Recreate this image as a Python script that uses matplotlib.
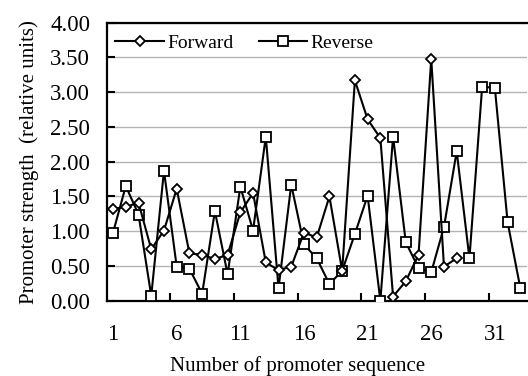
import matplotlib
matplotlib.use("Agg")
import matplotlib.pyplot as plt
from matplotlib.ticker import FixedLocator, FormatStrFormatter

plt.rcParams['font.family'] = ['Liberation Serif', 'DejaVu Serif']

forward = [1.32, 1.35, 1.41, 0.74, 1.01, 1.61, 0.68, 0.66, 0.60, 0.66,
           1.27, 1.55, 0.55, 0.44, 0.49, 0.98, 0.91, 1.50, 0.43, 3.17,
           2.61, 2.34, 0.06, 0.28, 0.66, 3.48, 0.49, 0.61]
reverse = [0.98, 1.65, 1.24, 0.07, 1.87, 0.49, 0.46, 0.10, 1.29, 0.38,
           1.64, 1.01, 2.36, 0.18, 1.67, 0.81, 0.61, 0.24, 0.43, 0.96,
           1.51, 0.00, 2.36, 0.84, 0.47, 0.41, 1.06, 2.15, 0.61, 3.08,
           3.06, 1.13, 0.18]
x_labels = ['1', '6', '11', '16', '21', '26', '31']
y_ticks = [0.0, 0.5, 1.0, 1.5, 2.0, 2.5, 3.0, 3.5, 4.0]

fs = 15
tfs = 16.5
fig = plt.figure(figsize=(5.28, 3.76), dpi=100)
ax = fig.add_axes([106.7/528, (376-300.7)/376, 420/528, (300.7-22.7)/376])

xf = list(range(1, len(forward) + 1))
xr = list(range(1, len(reverse) + 1))
ax.plot(xf, forward, color='black', lw=1.5, marker='D', ms=5.0, mfc='white',
        mec='black', mew=1.3, label='Forward', zorder=4)
ax.plot(xr, reverse, color='black', lw=1.5, marker='s', ms=6.5, mfc='white',
        mec='black', mew=1.3, label='Reverse', zorder=3)

ax.set_xlim(0.5, 33.5)
ax.set_ylim(0, 4.0)
ax.yaxis.set_major_locator(FixedLocator(y_ticks))
ax.yaxis.set_major_formatter(FormatStrFormatter('%.2f'))
ax.grid(axis='y', color='#b4b4b4', lw=1.0)
ax.set_axisbelow(True)

label_pos = [int(s) for s in x_labels]
ax.set_xticks(label_pos)
ax.set_xticklabels(x_labels)
ax.tick_params(axis='x', which='major', length=0, pad=17, labelsize=tfs)
ax.set_xticks([5.5, 10.5, 15.5, 20.5, 25.5, 30.5], minor=True)
ax.tick_params(axis='x', which='minor', direction='in', length=6, width=1.5)
ax.tick_params(axis='y', direction='in', length=6, width=1.5, pad=12, labelsize=tfs)

for s in ['left', 'bottom', 'top']:
    ax.spines[s].set_linewidth(1.6)
ax.spines['right'].set_visible(False)

ax.set_xlabel('Number of promoter sequence', fontsize=fs)
ax.xaxis.set_label_coords((298 - 106.7) / 420, (300.7 - 370.5) / 278)
ax.xaxis.label.set_va('baseline')
ax.set_ylabel('Promoter strength  (relative units)', fontsize=fs, labelpad=8)

ax.legend(loc='upper left', ncol=2, frameon=False, fontsize=14,
          handlelength=2.5, handletextpad=0.15, columnspacing=1.3,
          borderaxespad=0.05, bbox_to_anchor=(0.0, 0.99))

fig.savefig('out.png', dpi=100)
